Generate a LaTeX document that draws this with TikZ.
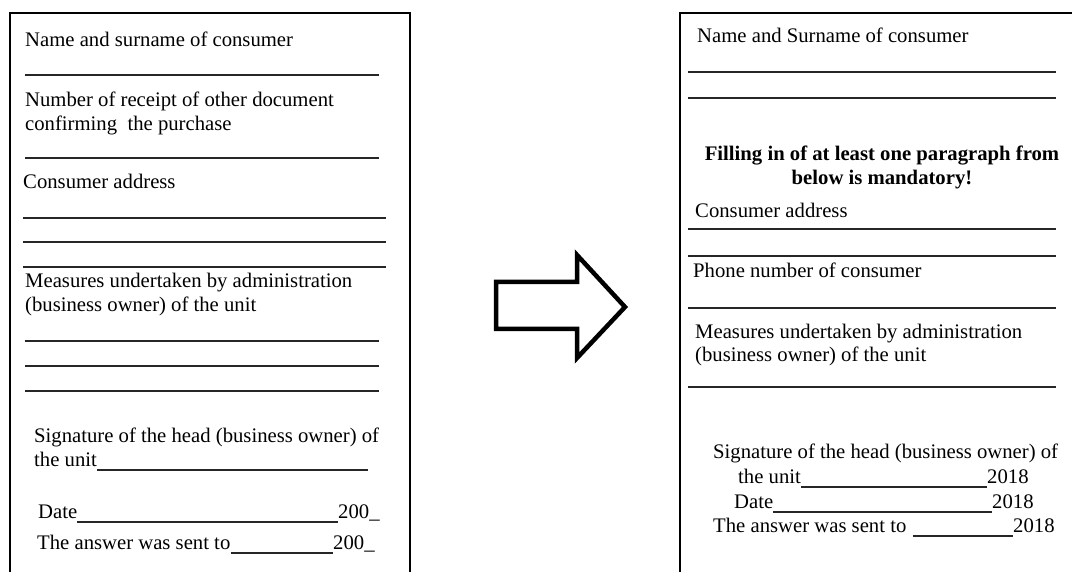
\documentclass[tikz,border=0pt]{standalone}
\usepackage{fontspec}
\setmainfont{Liberation Serif}
\newcommand\formfont{\fontsize{20.7}{24}\selectfont}
\begin{document}
\begin{tikzpicture}[x=1pt,y=-1pt,
    label node/.style={anchor=base west,inner sep=0pt,font=\formfont},
    title node/.style={anchor=base,inner sep=0pt,font=\formfont\bfseries},
    fill line/.style={line width=1.2pt,black!85},
    frame/.style={line width=2pt},
    block arrow/.style={line width=4.5pt,line join=miter}]
        \useasboundingbox (0,0) rectangle (1072,572);
        \clip (0,0) rectangle (1072,572);

        % old form
        \draw[frame] (10,600) -- (10,13) -- (410,13) -- (410,600);
        \node[label node] at (25,47) (lname) {Name and surname of consumer};
        \draw[fill line] (25,75) -- (379,75);
        \node[label node] at (25,107) (lreceipt) {Number of receipt of other document};
        \node[label node] at (25,131) (lconfirm) {confirming\ \ the purchase};
        \draw[fill line] (25,158) -- (379,158);
        \node[label node] at (23,189) (laddress) {Consumer address};
        \foreach \y in {218,242,267}
            \draw[fill line] (23,\y) -- (386,\y);
        \node[label node] at (25,288) (lmeasures) {Measures undertaken by administration};
        \node[label node] at (25,312) (lowner) {(business owner) of the unit};
        \foreach \y in {341,366,391}
            \draw[fill line] (25,\y) -- (379,\y);
        \node[label node] at (34,442) (lsign) {Signature of the head (business owner) of};
        \node[label node] at (34,466) (lunit) {the unit};
        \coordinate (lunitend) at (368,466);
        \node[label node] at (38,518) (ldate) {Date};
        \node[label node] at (338,518) (ldateyear) {200\_};
        \node[label node] at (37,549) (lsent) {The answer was sent to};
        \node[label node] at (333,549) (lsentyear) {200\_};
        \draw[fill line] ([yshift=-4pt]lunit.base east) -- ([yshift=-4pt]lunitend);
        \draw[fill line] ([yshift=-4pt]ldate.base east) -- ([yshift=-4pt]ldateyear.base west);
        \draw[fill line] ([yshift=-4pt]lsent.base east) -- ([yshift=-4pt]lsentyear.base west);

        % arrow
        \draw[block arrow] (496,282) -- (577,282) -- (577,255) -- (625,307)
            -- (577,358) -- (577,329) -- (496,329) -- cycle;

        % new form
        \draw[frame] (680,600) -- (680,13) -- (1100,13);
        \node[label node] at (697,43) (rname) {Name and Surname of consumer};
        \foreach \y in {72,98}
            \draw[fill line] (688,\y) -- (1056,\y);
        \node[title node] at (882,161) (rnote) {Filling in of at least one paragraph from};
        \node[title node] at (882,185) (rnotetwo) {below is mandatory!};
        \node[label node] at (695,218) (raddress) {Consumer address};
        \foreach \y in {229,256}
            \draw[fill line] (688,\y) -- (1056,\y);
        \node[label node] at (693,278) (rphone) {Phone number of consumer};
        \draw[fill line] (688,308) -- (1056,308);
        \node[label node] at (695,338) (rmeasures) {Measures undertaken by administration};
        \node[label node] at (695,362) (rowner) {(business owner) of the unit};
        \draw[fill line] (688,387) -- (1056,387);
        \node[label node] at (713,458) (rsign) {Signature of the head (business owner) of};
        \node[label node] at (738,483) (runit) {the unit};
        \node[label node] at (987,483) (runityear) {2018};
        \node[label node] at (734,508) (rdate) {Date};
        \node[label node] at (992,508) (rdateyear) {2018};
        \node[label node] at (713,532) (rsent) {The answer was sent to};
        \node[label node] at (1013,532) (rsentyear) {2018};
        \draw[fill line] ([yshift=-4pt]runit.base east) -- ([yshift=-4pt]runityear.base west);
        \draw[fill line] ([yshift=-4pt]rdate.base east) -- ([yshift=-4pt]rdateyear.base west);
        \draw[fill line] ([xshift=6pt,yshift=-4pt]rsent.base east) -- ([yshift=-4pt]rsentyear.base west);
\end{tikzpicture}
\end{document}
